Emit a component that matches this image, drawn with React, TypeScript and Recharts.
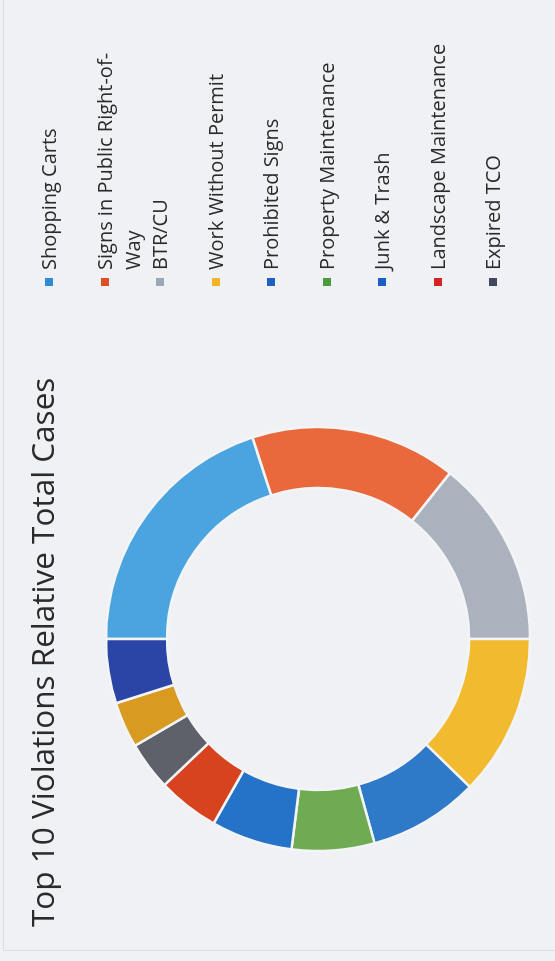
import React from 'react';
import { PieChart, Pie, Cell } from 'recharts';

// violation categories, clockwise from 12 o'clock (chart is shown turned on its side)
const categories = [
  'Shopping Carts',
  'Signs in Public Right-of-Way',
  'BTR/CU',
  'Work Without Permit',
  'Prohibited Signs',
  'Property Maintenance',
  'Junk & Trash',
  'Landscape Maintenance',
  'Expired TCO',
  'Other (not in legend)',
  'Other 2 (not in legend)',
];
const cases = [200, 157, 143, 123, 84, 63, 62, 47, 37, 35, 49];
const sliceColors = [
  '#4aa4df', '#e9693c', '#a9b2bd', '#f2bb2f', '#2f79c9', '#6fab52',
  '#2473c8', '#d7421f', '#5e6169', '#d99a22', '#2b45a6',
];
const legendColors = [
  '#2e8bd6', '#e04e26', '#9ea8b4', '#f3b328', '#1f5fc0', '#4b9a3b',
  '#1b5fc6', '#d42321', '#3f4a5e',
];
// legend only shows the first nine entries in the original
const legendCount = 9;

const data = categories.map((name, i) => ({ name, value: cases[i] }));

export default function App() {
  return (
    <div
      style={{
        position: 'fixed',
        top: 0,
        left: 0,
        width: 961,
        height: 555,
        transformOrigin: '0 0',
        transform: 'translateY(961px) rotate(-90deg)',
        background: '#f0f1f4',
        fontFamily: '"Open Sans", sans-serif',
        overflow: 'hidden',
      }}
    >
      <div
        style={{
          position: 'absolute',
          left: 10,
          top: 3,
          right: -5,
          bottom: -5,
          border: '1px solid #dcdde0',
        }}
      />
      <div
        style={{
          position: 'absolute',
          left: 34,
          top: 21,
          fontSize: 31.5,
          lineHeight: '42px',
          color: '#2b2b2b',
          whiteSpace: 'nowrap',
        }}
      >
        Top 10 Violations Relative Total Cases
      </div>

      <div style={{ position: 'absolute', left: 0, top: 0 }}>
        <PieChart width={961} height={555} margin={{ top: 0, right: 0, bottom: 0, left: 0 }}>
          <Pie
            data={data}
            dataKey="value"
            nameKey="name"
            cx={322}
            cy={318}
            innerRadius={151}
            outerRadius={212}
            startAngle={90}
            endAngle={-270}
            stroke="#f3f4f6"
            strokeWidth={2.5}
            isAnimationActive={false}
          >
            {data.map((d, i) => (
              <Cell key={d.name} fill={sliceColors[i]} />
            ))}
          </Pie>
        </PieChart>
      </div>

      <div style={{ position: 'absolute', left: 675, top: 35 }}>
        {categories.slice(0, legendCount).map((name, i) => (
          <div
            key={name}
            style={{ position: 'relative', height: 55.5, width: 270 }}
          >
            <div
              style={{
                position: 'absolute',
                left: 0,
                top: 10,
                width: 8,
                height: 8,
                background: legendColors[i],
              }}
            />
            <div
              style={{
                position: 'absolute',
                left: 16,
                top: 0,
                width: 248,
                fontSize: 20,
                lineHeight: '28px',
                color: '#2b2b2b',
              }}
            >
              {name}
            </div>
          </div>
        ))}
      </div>
    </div>
  );
}
